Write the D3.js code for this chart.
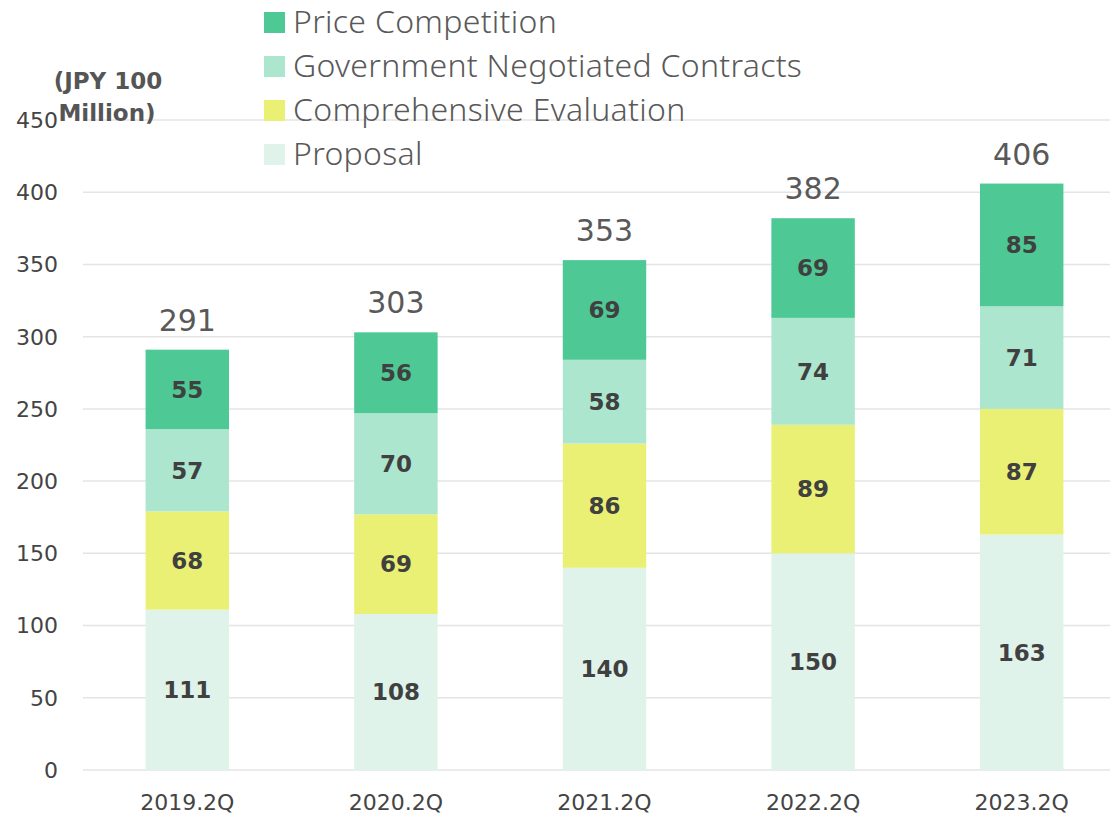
<!DOCTYPE html>
<html>
<head>
<meta charset="utf-8">
<script src="https://cdn.jsdelivr.net/npm/d3@7.9.0/dist/d3.min.js"></script>
<style>
  body { margin: 0; background: #fff; }
  svg { font-family: "DejaVu Sans", "Noto Sans", sans-serif; }
</style>
</head>
<body>
<svg id="chart" width="1110" height="817"></svg>
<script>
// data
const periods = ["2019.2Q", "2020.2Q", "2021.2Q", "2022.2Q", "2023.2Q"];
const proposal = [111, 108, 140, 150, 163];
const comprehensive = [68, 69, 86, 89, 87];
const government = [57, 70, 58, 74, 71];
const price = [55, 56, 69, 69, 85];
const yTicks = [0, 50, 100, 150, 200, 250, 300, 350, 400, 450];

const seriesNames = ["Proposal", "Comprehensive Evaluation", "Government Negotiated Contracts", "Price Competition"];
const seriesColors = ["#dff3ea", "#eaf074", "#ade6cf", "#4ec995"];

const rows = periods.map((p, i) => ({
  period: p,
  "Proposal": proposal[i],
  "Comprehensive Evaluation": comprehensive[i],
  "Government Negotiated Contracts": government[i],
  "Price Competition": price[i]
}));

const svg = d3.select("#chart");

const x = d3.scaleBand()
  .domain(periods)
  .range([83, 1126])
  .paddingInner(0.6)
  .paddingOuter(0.3);

const y = d3.scaleLinear()
  .domain([0, 450])
  .range([770, 120]);

// gridlines
svg.append("g")
  .selectAll("line")
  .data(yTicks)
  .join("line")
  .attr("x1", 83)
  .attr("x2", 1110)
  .attr("y1", d => y(d))
  .attr("y2", d => y(d))
  .attr("stroke", "#e4e4e4")
  .attr("stroke-width", 1.5);

// y tick labels
svg.append("g")
  .selectAll("text")
  .data(yTicks)
  .join("text")
  .attr("x", 58)
  .attr("y", d => y(d))
  .attr("dy", "0.36em")
  .attr("text-anchor", "end")
  .attr("font-size", 22)
  .attr("fill", "#444")
  .text(d => d);

// stacked bars
const stack = d3.stack().keys(seriesNames);
const layers = stack(rows);

const color = d3.scaleOrdinal().domain(seriesNames).range(seriesColors);

const layerG = svg.append("g")
  .selectAll("g")
  .data(layers)
  .join("g")
  .attr("fill", d => color(d.key));

layerG.selectAll("rect")
  .data(d => d)
  .join("rect")
  .attr("x", d => x(d.data.period))
  .attr("width", x.bandwidth())
  .attr("y", d => y(d[1]))
  .attr("height", d => y(d[0]) - y(d[1]));

// segment values
layerG.selectAll("text")
  .data(d => d.map(v => ({ v, key: d.key })))
  .join("text")
  .attr("x", d => x(d.v.data.period) + x.bandwidth() / 2)
  .attr("y", d => y((d.v[0] + d.v[1]) / 2))
  .attr("dy", "0.36em")
  .attr("text-anchor", "middle")
  .attr("font-size", 23)
  .attr("font-weight", "bold")
  .attr("fill", "#404040")
  .text(d => d.v.data[d.key]);

// totals above bars
const totals = rows.map(r => seriesNames.reduce((s, k) => s + r[k], 0));
svg.append("g")
  .selectAll("text")
  .data(totals)
  .join("text")
  .attr("x", (d, i) => x(periods[i]) + x.bandwidth() / 2)
  .attr("y", d => y(d) - 19)
  .attr("text-anchor", "middle")
  .attr("font-size", 30)
  .attr("fill", "#595959")
  .text(d => d);

// x labels
svg.append("g")
  .selectAll("text")
  .data(periods)
  .join("text")
  .attr("x", d => x(d) + x.bandwidth() / 2)
  .attr("y", 810)
  .attr("text-anchor", "middle")
  .attr("font-size", 22)
  .attr("fill", "#444")
  .text(d => d);

// y axis title
const title = svg.append("text")
  .attr("text-anchor", "middle")
  .attr("font-size", 23)
  .attr("font-weight", "bold")
  .attr("fill", "#555");
title.append("tspan").attr("x", 108).attr("y", 89).text("(JPY 100");
title.append("tspan").attr("x", 107).attr("y", 121).text("Million)");

// legend (top to bottom reversed order of stack)
const legendItems = seriesNames.slice().reverse();
const legend = svg.append("g")
  .selectAll("g")
  .data(legendItems)
  .join("g")
  .attr("transform", (d, i) => `translate(264, ${22 + i * 44})`);

legend.append("rect")
  .attr("x", 0)
  .attr("y", -10)
  .attr("width", 21)
  .attr("height", 21)
  .attr("fill", d => color(d));

legend.append("text")
  .attr("x", 29)
  .attr("y", 0)
  .attr("dy", "0.35em")
  .attr("font-family", "'Noto Sans', sans-serif")
  .attr("font-size", 32)
  .attr("font-weight", 300)
  .attr("letter-spacing", 0.3)
  .attr("fill", "#595959")
  .text(d => d);
</script>
</body>
</html>
